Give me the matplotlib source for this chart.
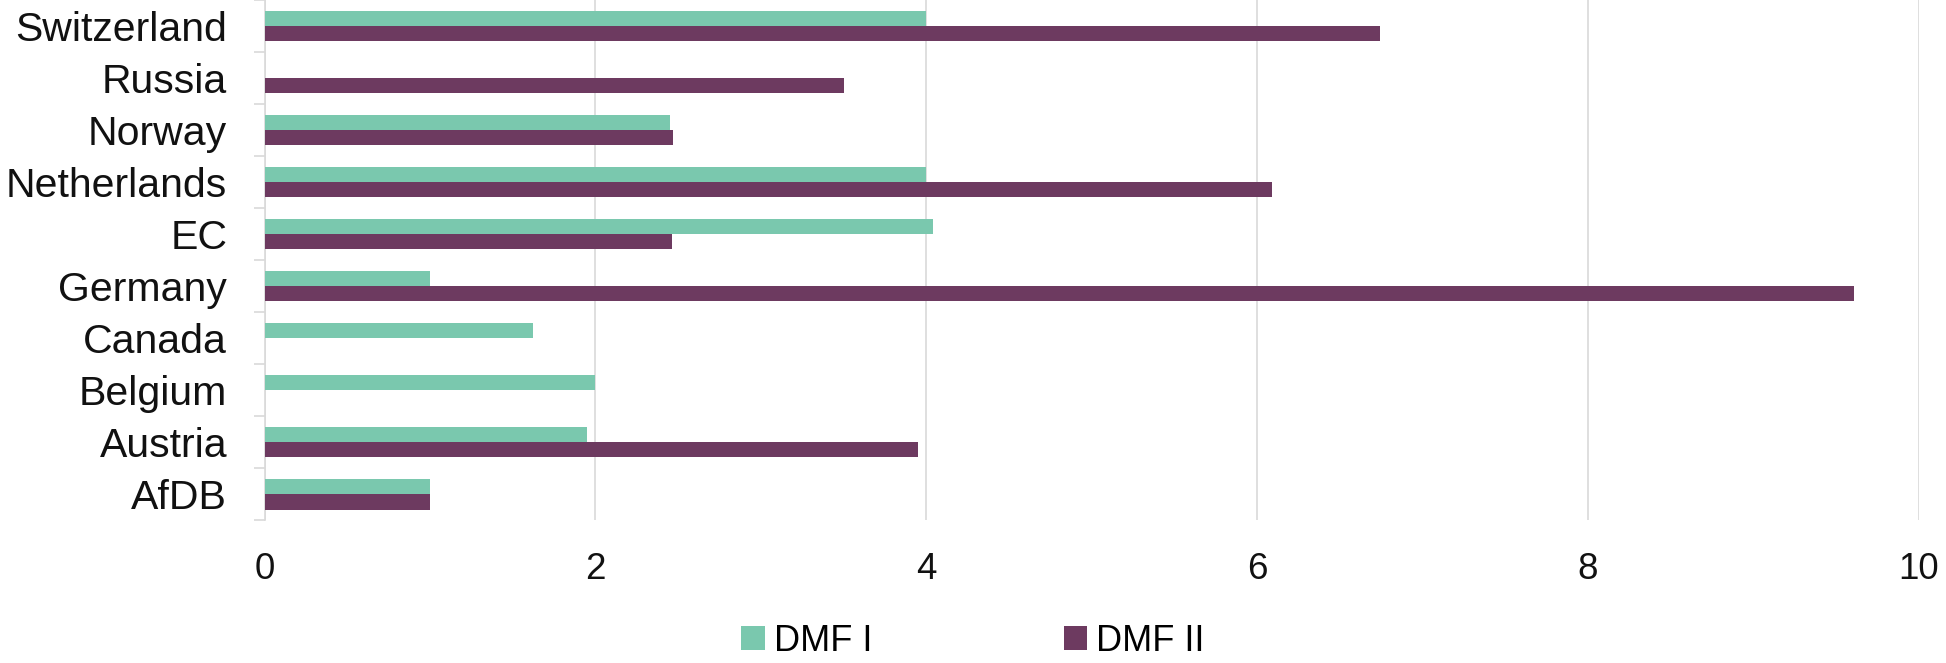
import matplotlib
matplotlib.use("Agg")
import matplotlib.pyplot as plt
import numpy as np

categories = ["AfDB", "Austria", "Belgium", "Canada", "Germany", "EC",
              "Netherlands", "Norway", "Russia", "Switzerland"]
dmf1 = [1.0, 1.95, 2.0, 1.62, 1.0, 4.04, 4.0, 2.45, 0.0, 4.0]
dmf2 = [1.0, 3.95, 0.0, 0.0, 9.61, 2.46, 6.09, 2.47, 3.50, 6.74]
xticks = [0, 2, 4, 6, 8, 10]

teal = "#7AC8AE"
purple = "#6D3A60"
grid_c = "#D9D9D9"

plt.rcParams['font.family'] = ['Liberation Sans', 'DejaVu Sans']

fig = plt.figure(figsize=(19.46, 6.63), dpi=100)
ax = fig.add_axes([0.136, 0.215, 0.850, 0.785])

y = np.arange(len(categories))
h = 0.29
ax.barh(y + h / 2, dmf1, height=h, color=teal, label="DMF I", zorder=3)
ax.barh(y - h / 2, dmf2, height=h, color=purple, label="DMF II", zorder=3)

ax.set_xlim(0, 10)
ax.set_ylim(-0.5, len(categories) - 0.5)
ax.set_xticks(xticks)
ax.set_xticklabels([str(t) for t in xticks])
ax.set_yticks(y)
ax.set_yticklabels(categories)
ax.set_yticks(np.arange(-0.5, len(categories)), minor=True)

ax.grid(axis='x', color=grid_c, linewidth=1.2, zorder=0)
ax.grid(axis='y', visible=False)
for s in ['top', 'right', 'bottom']:
    ax.spines[s].set_visible(False)
ax.spines['left'].set_color(grid_c)
ax.spines['left'].set_linewidth(1.2)

ax.tick_params(axis='x', length=0, pad=23, labelsize=26.5, labelcolor='#111111')
ax.tick_params(axis='y', which='major', length=0, pad=27, labelsize=29.5, labelcolor='#111111')
ax.tick_params(axis='y', which='minor', length=8, width=1.2, color=grid_c)

leg = fig.legend(loc='center', bbox_to_anchor=(0.5, 0.033), ncol=2, frameon=False,
                 fontsize=26, handlelength=0.65, handleheight=0.65, handletextpad=0.25,
                 columnspacing=5.3)

fig.savefig("out.png", dpi=100, facecolor='white')
